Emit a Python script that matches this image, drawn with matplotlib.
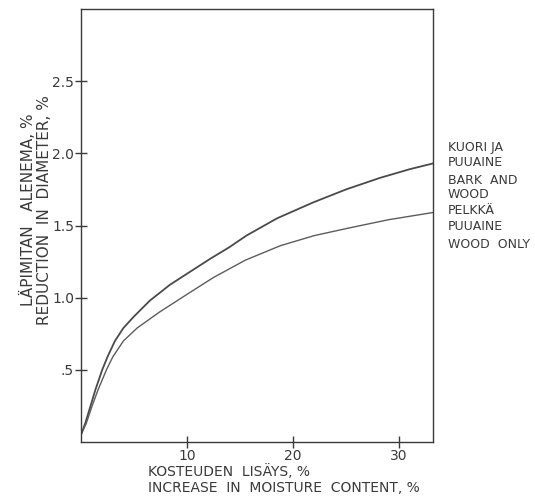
import matplotlib.pyplot as plt

# moisture increase (%) vs. reduction in diameter (%)
x_bark = [0, 0.4, 0.9, 1.35, 2.0, 2.5, 3.2, 4.0, 5.0, 6.5, 8.4, 10.3, 12.2, 14.0,
          15.6, 18.5, 21.9, 25.0, 28.2, 31.0, 33.2]
y_bark = [0.05, 0.13, 0.25, 0.36, 0.50, 0.59, 0.70, 0.79, 0.87, 0.98, 1.09, 1.18,
          1.27, 1.35, 1.43, 1.55, 1.66, 1.75, 1.83, 1.89, 1.93]

x_wood = [0, 0.5, 1.05, 1.6, 2.4, 3.0, 4.0, 5.3, 7.4, 9.3, 11.0, 12.5, 15.5, 18.8,
          22.0, 25.1, 29.0, 33.2]
y_wood = [0.05, 0.13, 0.25, 0.36, 0.50, 0.59, 0.70, 0.79, 0.90, 0.99, 1.07, 1.14,
          1.26, 1.36, 1.43, 1.48, 1.54, 1.59]

x_ticks = [10, 20, 30]
y_ticks = [0.5, 1.0, 1.5, 2.0, 2.5]
y_ticklabels = ['.5', '1.0', '1.5', '2.0', '2.5']

# curve names next to the right edge, one line each (pixel row from top)
side_lines = ['KUORI JA', 'PUUAINE', 'BARK  AND', 'WOOD', 'PELKKÄ', 'PUUAINE', 'WOOD  ONLY']
side_rows = [146, 161, 180, 194, 210, 225, 244]

ink = '#3a3a3a'
plt.rcParams['font.family'] = ['DejaVu Sans']

W, H = 535, 499
fig = plt.figure(figsize=(W / 100, H / 100), dpi=100)
ax = fig.add_axes([81 / W, 1 - 442 / H, 352 / W, 433 / H])

ax.plot(x_bark, y_bark, color='#4a4a4a', lw=1.3)
ax.plot(x_wood, y_wood, color='#5c5c5c', lw=1.0)

ax.set_xlim(0, 33.2)
ax.set_ylim(0, 3.0)
ax.set_xticks(x_ticks)
ax.set_xticklabels([str(t) for t in x_ticks])
ax.set_yticks(y_ticks)
ax.set_yticklabels(y_ticklabels)
ax.tick_params(direction='inout', length=8, width=1.0, color=ink,
               labelcolor=ink, labelsize=10, pad=1)
for s in ax.spines.values():
    s.set_color(ink)
    s.set_linewidth(1.0)

# axis captions in Finnish and English
fig.text(28 / W, 1 - 210 / H, 'LÄPIMITAN   ALENEMA, %', rotation=90, ha='center',
         va='center', fontsize=11, color=ink)
fig.text(45 / W, 1 - 210 / H, 'REDUCTION  IN  DIAMETER, %', rotation=90, ha='center',
         va='center', fontsize=11, color=ink)
fig.text(148 / W, 1 - 472 / H, 'KOSTEUDEN  LISÄYS, %', ha='left', va='center',
         fontsize=10, color=ink)
fig.text(148 / W, 1 - 488 / H, 'INCREASE  IN  MOISTURE  CONTENT, %', ha='left',
         va='center', fontsize=10, color=ink)

for txt, row in zip(side_lines, side_rows):
    fig.text(448 / W, 1 - (row + 4.5) / H, txt, ha='left', va='baseline',
             fontsize=9, color=ink)

fig.savefig('out.png', dpi=100, facecolor='white')
